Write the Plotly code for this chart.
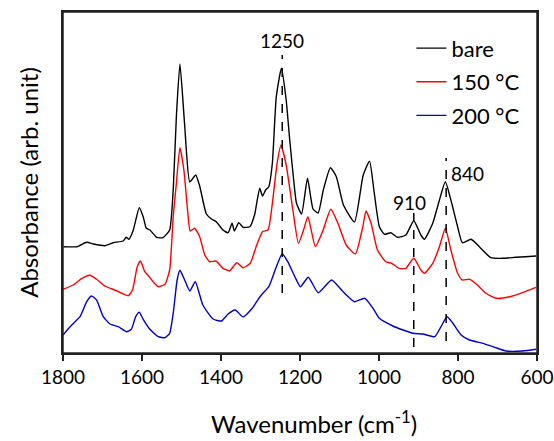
import plotly.graph_objects as go

# ---------------- data (arb. units) ----------------
bare_wn = [1799, 1765, 1740, 1723, 1694, 1673, 1648, 1640, 1633, 1622, 1607, 1597, 1589, 1580,
           1563, 1547, 1530, 1521, 1513, 1504, 1492, 1479, 1464, 1454, 1437, 1424, 1412, 1395,
           1382, 1372, 1366, 1355, 1344, 1327, 1315, 1302, 1295, 1287, 1279, 1270, 1260, 1247,
           1235, 1226, 1216, 1209, 1196, 1181, 1167, 1154, 1141, 1123, 1108, 1090, 1062, 1040,
           1024, 1012, 999, 986, 970, 953, 932, 912, 894, 885, 864, 847, 832, 818, 801, 789,
           767, 746, 717, 687, 654, 629, 602]
bare_abs = [106.3, 106.3, 110.7, 109, 107.3, 110.3, 112, 115.7, 113.7, 123, 145.3, 136.3, 124.7, 123,
            115.7, 115.3, 123, 163, 236.3, 289, 228, 171, 178, 167, 139, 134, 131.3, 123,
            120.3, 129.7, 122, 130.3, 125.7, 126.3, 138, 164.7, 157, 163, 166.3, 189.7, 256.3, 284.7,
            253, 213, 173, 150, 139, 174.7, 144, 140, 163, 185.3, 176.3, 148, 131, 178,
            191.7, 160, 126.3, 118.7, 120.3, 115.7, 118, 132.3, 118, 113.7, 129.7, 153, 171.3, 153, 126.3, 110.3,
            113.7, 106.3, 95.3, 94.7, 95.7, 96.3, 97]

c150_wn = [1800, 1774, 1753, 1732, 1715, 1694, 1669, 1635, 1624, 1612, 1604, 1593, 1582, 1572,
           1559, 1542, 1530, 1521, 1513, 1504, 1494, 1484, 1478, 1467, 1454, 1441, 1429, 1413,
           1395, 1378, 1360, 1344, 1326, 1311, 1295, 1281, 1269, 1258, 1248, 1235, 1218, 1204,
           1191, 1180, 1161, 1143, 1122, 1104, 1083, 1060, 1041, 1033, 1020, 1004, 983, 968,
           949, 932, 912, 894, 885, 864, 847, 832, 818, 801, 789, 770, 751, 729, 704, 669, 635, 603]
c150_abs = [63.7, 68, 74.3, 77.7, 73.7, 67, 63, 57.3, 63, 86.3, 92, 81.3, 76.3, 71.3,
            66.3, 68.7, 83, 136.3, 169.7, 205.3, 183, 140, 122, 124.7, 116.3, 98, 91.3, 92,
            84.7, 82.3, 90.3, 85.3, 89.7, 106.3, 121.3, 123, 153, 189.7, 208, 188, 143, 109.7,
            123, 136.3, 106.3, 121.3, 143.7, 129.7, 108, 99, 126.3, 142, 129.7, 103, 91.3, 89.7,
            84.7, 84.7, 94.7, 83, 79.7, 89.7, 106.3, 124.7, 103, 79.7, 73, 73.7, 68, 59.7, 54.7, 56.3, 60.7, 65.7]

c200_wn = [1800, 1778, 1757, 1740, 1728, 1715, 1698, 1681, 1660, 1639, 1627, 1616, 1607, 1597,
           1580, 1559, 1542, 1530, 1521, 1511, 1504, 1492, 1479, 1465, 1446, 1420, 1399, 1382,
           1364, 1344, 1321, 1300, 1279, 1262, 1245, 1231, 1213, 1199, 1179, 1154, 1120, 1091,
           1062, 1036, 1015, 999, 965, 939, 914, 889, 859, 843, 828, 813, 792, 771, 737, 707,
           678, 636, 602]
c200_abs = [18, 28, 36.3, 51.3, 57, 53, 36.3, 29, 26.3, 21.3, 23.7, 36.3, 40.7, 33.7,
            23.7, 16.3, 15.3, 19.7, 39.7, 73, 82.7, 73, 62, 71.3, 48, 34, 32, 39,
            43, 36, 44.7, 57, 66.3, 84, 99.3, 91.3, 76.3, 66.3, 75.7, 60.3, 73, 61.3,
            51.3, 54.7, 44.7, 34.7, 27, 23, 19.7, 19, 16.3, 26.3, 36.3, 29.7, 18, 13, 9.7, 5.7,
            2, 2, 3.7]

series_names = ["bare", "150 \u00b0C", "200 \u00b0C"]
series_colors = ["#000000", "#ff0000", "#0000cc"]

x_ticks = [1800, 1600, 1400, 1200, 1000, 800, 600]

# marked bands: position, label, dashed line extent (low, high)
band_pos = [1245, 912, 830]
band_labels = ["1250", "910", "840"]
band_low = [60, 6, 12]
band_high = [298, 140, 195]

FONT = "Lato, 'Open Sans', sans-serif"

fig = go.Figure()
for i, (wn, ab) in enumerate([(bare_wn, bare_abs), (c150_wn, c150_abs), (c200_wn, c200_abs)]):
    fig.add_trace(go.Scatter(
        x=wn, y=ab, mode="lines", name=series_names[i],
        legendgroup=f"g{i}",
        line=dict(color=series_colors[i], width=1.4, shape="spline", smoothing=0.5),
    ))

for pos, lo, hi in zip(band_pos, band_low, band_high):
    fig.add_shape(type="line", x0=pos, x1=pos, y0=lo, y1=hi, xref="x", yref="y",
                  line=dict(color="black", width=1.5, dash="dash"))

# plot frame
fig.add_shape(type="rect", xref="paper", yref="paper", x0=0, x1=1, y0=0, y1=1,
              line=dict(color="#222", width=1.5), fillcolor="rgba(0,0,0,0)", layer="above")

fig.add_annotation(x=band_pos[0], y=313, text=band_labels[0], showarrow=False,
                   font=dict(family=FONT, size=19, color="black"))
fig.add_annotation(x=band_pos[1], y=151, text=band_labels[1], showarrow=False, xshift=-4,
                   font=dict(family=FONT, size=19, color="black"))
fig.add_annotation(x=band_pos[2], y=180, text=band_labels[2], showarrow=False, xanchor="left", xshift=3,
                   font=dict(family=FONT, size=19, color="black"))

# x-axis title (slightly right of centre, as in the original)
fig.add_annotation(xref="paper", yref="paper", x=0.53, y=-0.202, xanchor="center", yanchor="middle",
                   text="Wavenumber (cm<sup>-1</sup>)", showarrow=False,
                   font=dict(family=FONT, size=24, color="black"))

fig.update_layout(
    width=554, height=441,
    margin=dict(l=63, r=17, t=12, b=88, autoexpand=False),
    paper_bgcolor="white", plot_bgcolor="white",
    font=dict(family=FONT, size=19, color="black"),
    showlegend=True,
    legend=dict(x=0.735, y=0.955, xanchor="left", yanchor="top",
                bgcolor="rgba(0,0,0,0)", font=dict(size=22, family=FONT),
                tracegroupgap=2),
    xaxis=dict(range=[1800, 600], tickvals=x_ticks, ticktext=[str(v) for v in x_ticks],
               ticks="outside", ticklen=6, tickwidth=1.5, tickcolor="#222",
               showline=True, linecolor="#222", linewidth=1.5, mirror=True,
               showgrid=False, zeroline=False, ticklabeloverflow="allow",
               tickfont=dict(size=19, family=FONT)),
    yaxis=dict(range=[0, 341], showticklabels=False, ticks="",
               showline=True, linecolor="#222", linewidth=1.5, mirror=True,
               showgrid=False, zeroline=False,
               title=dict(text="Absorbance (arb. unit)", font=dict(size=24, family=FONT), standoff=16)),
)

fig.write_html("out.html", config={"displayModeBar": False},
               post_script="document.body.style.margin='0';document.body.style.overflow='hidden';")
